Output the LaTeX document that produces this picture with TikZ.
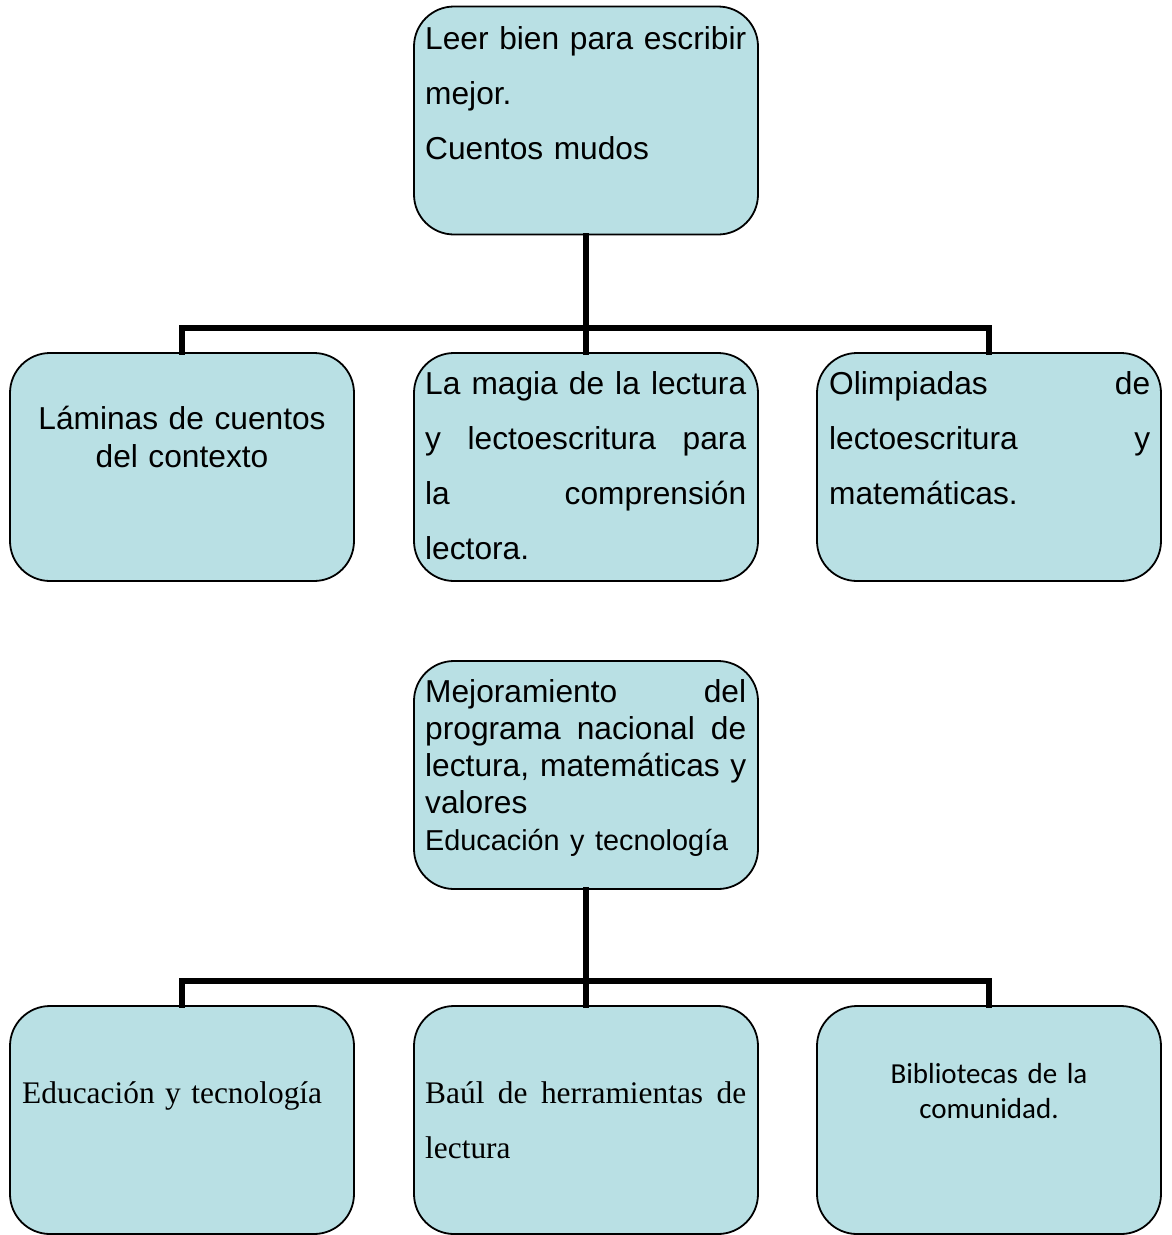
\documentclass[tikz,border=0pt]{standalone}
\usepackage{fontspec}
\setmainfont{Liberation Sans}
\newfontfamily\timesfont{Liberation Serif}
\newfontfamily\calibrifont{Carlito}
\definecolor{boxfill}{RGB}{185,224,228}
% one justified line of a box text
\newcommand{\jline}[1]{\leavevmode\hbox to 321pt{\spaceskip=\fontdimen2\font plus 1fil\relax #1}}

\begin{document}
\begin{tikzpicture}[x=1pt,y=1pt,yscale=-1,xscale=1,
	box/.style={draw=black, line width=1.8pt, fill=boxfill, rounded corners=40pt,
		minimum width=344pt, minimum height=228pt, inner sep=0pt},
	link/.style={line width=5.8pt, line cap=rect},
	txt/.style={inner sep=0pt, text width=321pt, align=left, anchor=base west,
		font=\fontsize{31.7}{55}\selectfont}]
		\useasboundingbox (0,0) rectangle (1171,1235);

		% Upper group: the boxes
		\node[box] (leer) at (586,120.5) {};
		\node[box] (laminas) at (182,467) {};
		\node[box] (magia) at (586,467) {};
		\node[box] (olimp) at (989,467) {};

		% Upper group: the connectors
		\coordinate (busA) at (586,328);
		\draw[link] (leer.south) -- (magia.north);
		\draw[link] (laminas.north) |- (busA) -| (olimp.north);

		% Upper group: the texts
		\node[txt] (leertxt) at (425,49) {\jline{Leer bien para escribir}\\mejor.\\Cuentos mudos};
		\node[txt, text width=340pt, align=center, anchor=base, font=\fontsize{31.7}{38}\selectfont] (laminastxt) at (182,429) {Láminas de cuentos\\del contexto};
		\node[txt] (magiatxt) at (425,394) {\jline{La magia de la lectura}\\\jline{y lectoescritura para}\\\jline{la comprensión}\\lectora.};
		\node[txt] (olimptxt) at (829,394) {\jline{Olimpiadas de}\\\jline{lectoescritura y}\\matemáticas.};

		% Lower group: the boxes
		\node[box] (mejora) at (586,775) {};
		\node[box] (educa) at (182,1120) {};
		\node[box] (baul) at (586,1120) {};
		\node[box] (biblio) at (989,1120) {};

		% Lower group: the connectors
		\coordinate (busB) at (586,981);
		\draw[link] (mejora.south) -- (baul.north);
		\draw[link] (educa.north) |- (busB) -| (biblio.north);

		% Lower group: the texts
		\node[txt, font=\fontsize{31.7}{37}\selectfont] (mejoratxt) at (425,702) {\jline{Mejoramiento del}\\\jline{programa nacional de}\\\jline{lectura, matemáticas y}\\valores\\{\fontsize{28.8}{36}\selectfont Educación y tecnología}};
		\node[txt, font=\fontsize{31.4}{55}\timesfont] (educatxt) at (22,1103) {Educación y tecnología};
		\node[txt, font=\fontsize{31.4}{55}\timesfont] (baultxt) at (425,1103) {\jline{Baúl de herramientas de}\\lectura};
		\node[txt, text width=340pt, align=center, anchor=base, font=\fontsize{29}{35}\calibrifont] (bibliotxt) at (989,1083) {Bibliotecas de la\\comunidad.};
	\end{tikzpicture}
\end{document}
